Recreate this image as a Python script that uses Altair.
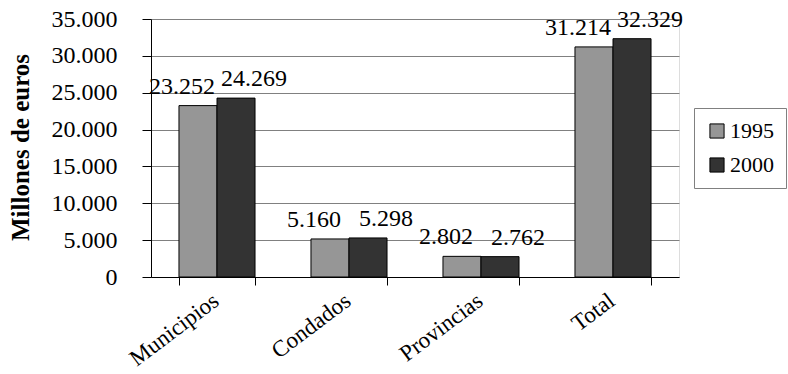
import altair as alt
import pandas as pd

categories = ["Municipios", "Condados", "Provincias", "Total"]
years = ["1995", "2000"]
values_1995 = [23252, 5160, 2802, 31214]
values_2000 = [24269, 5298, 2762, 32329]
y_ticks = [0, 5000, 10000, 15000, 20000, 25000, 30000, 35000]

rows = []
for c, v1, v2 in zip(categories, values_1995, values_2000):
    rows.append({"cat": c, "year": "1995", "value": v1})
    rows.append({"cat": c, "year": "2000", "value": v2})
df = pd.DataFrame(rows)

FONT = "Liberation Serif, Times New Roman, serif"

x_enc = alt.X("cat:N", sort=categories,
              scale=alt.Scale(paddingInner=0.424, paddingOuter=0.212),
              axis=alt.Axis(title=None, labelAngle=-37, labelAlign="right",
                            labelBaseline="top", labelPadding=4, labelOffset=-8,
                            tickBand="extent",
                            tickSize=8, tickColor="black", domainColor="black",
                            labelFont=FONT, labelFontSize=23, labelColor="black",
                            grid=False))
y_enc = alt.Y("value:Q", scale=alt.Scale(domain=[0, 35000], nice=False),
              axis=alt.Axis(title="Millones de euros", values=y_ticks,
                            labelExpr="replace(format(datum.value, ','), ',', '.')",
                            labelOverlap=False,
                            labelFont=FONT, labelFontSize=24, labelColor="black",
                            labelPadding=25, tickSize=9, tickColor="black",
                            domainColor="black", gridColor="#808080",
                            titleFont=FONT, titleFontSize=25, titleFontWeight="bold",
                            titleColor="black", titleX=-131, titleY=128, titleAngle=270,
                            titleAlign="center", titleBaseline="middle"))
xoff = alt.XOffset("year:N", sort=years, scale=alt.Scale(paddingInner=0, paddingOuter=0))
color = alt.Color("year:N", sort=years,
                  scale=alt.Scale(domain=years, range=["#969696", "#333333"]),
                  legend=alt.Legend(title=None, orient="none", legendX=543, legendY=89,
                                    symbolType="square", symbolSize=200,
                                    symbolStrokeColor="black", symbolStrokeWidth=1,
                                    labelFont=FONT, labelFontSize=22, labelColor="black",
                                    strokeColor="#808080", padding=12, rowPadding=12,
                                    symbolOpacity=1, labelOffset=2))

bars = alt.Chart(df).mark_bar(stroke="black", strokeWidth=1).encode(
    x=x_enc, xOffset=xoff, y=y_enc, color=color,
)

def labels(year, dx):
    return alt.Chart(df).transform_filter(
        alt.datum.year == year
    ).transform_calculate(
        lab="replace(format(datum.value, ','), ',', '.')"
    ).mark_text(font=FONT, fontSize=24, color="black", baseline="bottom", dx=dx, dy=-7).encode(
        x=x_enc, xOffset=xoff, y=y_enc, text="lab:N",
    )

chart = alt.layer(bars, labels("1995", -16), labels("2000", 18)).properties(
    width=528, height=258,
    autosize=alt.AutoSizeParams(type="none"),
    padding={"left": 151, "top": 19, "right": 109, "bottom": 97},
).configure_view(stroke="#808080", strokeWidth=1).configure(background="white")

chart.save("out.html", embed_options={"renderer": "svg", "actions": False})
